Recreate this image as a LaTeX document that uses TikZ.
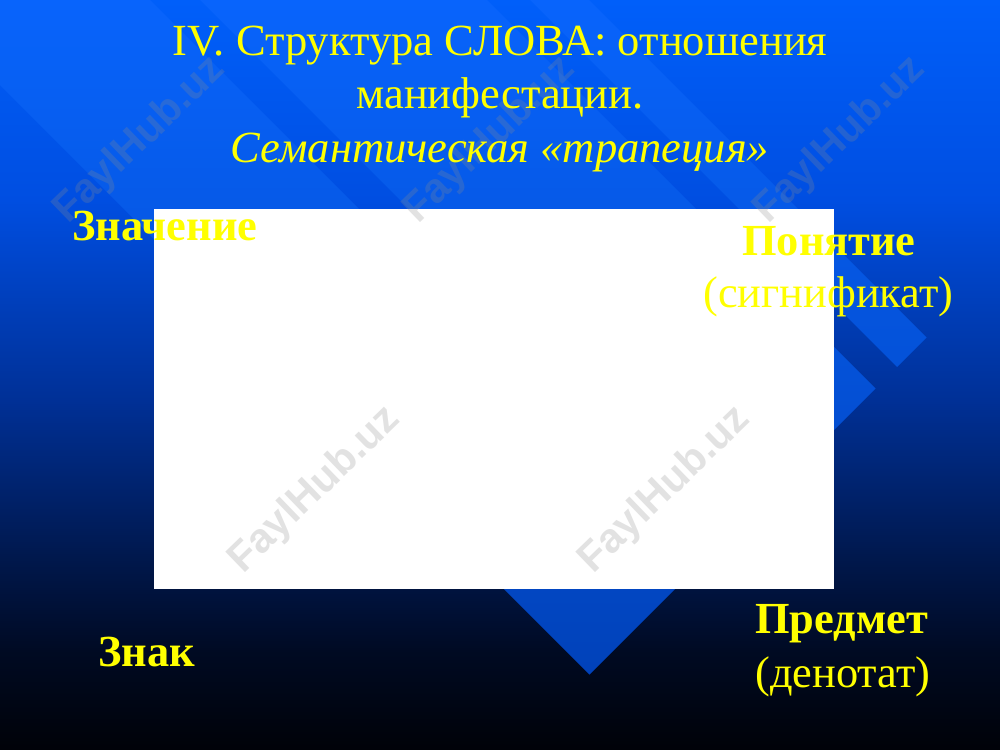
\documentclass[tikz,border=0pt]{standalone}
\usepackage{fontspec}
\setmainfont{Liberation Serif}
\newfontfamily\wmfont{Liberation Sans}
\definecolor{bg0}{RGB}{0,95,250}
\definecolor{bg1}{RGB}{0,78,225}
\definecolor{bg2}{RGB}{0,48,150}
\definecolor{bg3}{RGB}{0,25,80}
\definecolor{bg4}{RGB}{0,10,35}
\definecolor{bg5}{RGB}{0,2,8}
\definecolor{bd0}{RGB}{8,100,252}
\definecolor{bd1}{RGB}{0,62,178}
\definecolor{ylw}{RGB}{255,255,0}
\definecolor{wmgray}{RGB}{140,140,140}
\tikzset{
  ttl/.style={text=ylw, inner sep=0, anchor=base, font=\fontsize{33.4}{38}\selectfont},
  lbl/.style={text=ylw, inner sep=0, anchor=base west, font=\fontsize{33.3}{40}\selectfont},
  lblb/.style={lbl, font=\fontsize{33.3}{40}\selectfont\bfseries},
  wm/.style={text=wmgray, text opacity=0.25, inner sep=0, rotate=44, font=\wmfont\bfseries\fontsize{31}{31}\selectfont}
}
\begin{document}
\begin{tikzpicture}[x=0.75pt,y=-0.75pt]
\useasboundingbox (0,0) rectangle (1000,750);
\clip (0,0) rectangle (1000,750);
% background gradient
\shade[top color=bg0,bottom color=bg1] (0,0) rectangle (1000,201);
\shade[top color=bg1,bottom color=bg2] (0,200) rectangle (1000,401);
\shade[top color=bg2,bottom color=bg3] (0,400) rectangle (1000,551);
\shade[top color=bg3,bottom color=bg4] (0,550) rectangle (1000,651);
\shade[top color=bg4,bottom color=bg5] (0,650) rectangle (1000,750);
% diagonal bands
\begin{scope}
\clip (-300,-450) -- (707,557) -- (589.5,674.5) -- (-300,-215) -- cycle
      (-300,-787) -- (875.5,388.5) -- (732,532) -- (-300,-500) -- cycle
      (-300,-889) -- (926.5,337.5) -- (897,367) -- (-300,-830) -- cycle;
\shade[top color=bd0,bottom color=bd1] (0,0) rectangle (1000,750);
\end{scope}
% white board
\fill[white] (154,209) rectangle (834,589);
% watermarks
\node[wm] (wm1) at (140,140) {FaylHub.uz};
\node[wm] (wm2) at (490,140) {FaylHub.uz};
\node[wm] (wm3) at (840,140) {FaylHub.uz};
\node[wm] (wm5) at (315,490) {FaylHub.uz};
\node[wm] (wm6) at (665,490) {FaylHub.uz};
% title
\node[ttl] (t1) at (500,55) {IV. Структура СЛОВА: отношения};
\node[ttl] (t2) at (500,108) {манифестации.};
\node[ttl] (t3) at (500,162) {\itshape Семантическая «трапеция»};
% labels
\node[lblb] (znach) at (72,240) {Значение};
\node[lblb] (ponyat) at (742,255) {Понятие};
\node[lbl] (signif) at (703,307) {(сигнификат)};
\node[lblb] (znak) at (98,666) {Знак};
\node[lblb] (predm) at (755,633) {Предмет};
\node[lbl] (denot) at (755,687) {(денотат)};
\end{tikzpicture}
\end{document}
